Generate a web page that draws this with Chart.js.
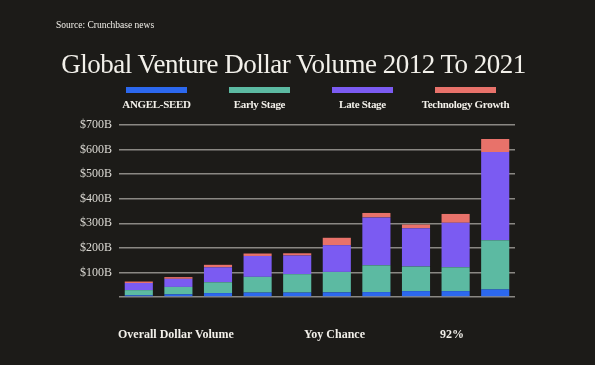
<!DOCTYPE html>
<html>
<head>
<meta charset="utf-8">
<script src="https://cdn.jsdelivr.net/npm/chart.js@4"></script>
<style>
    body {
        margin: 0;
        width: 595px;
        height: 365px;
        background: #1c1b18;
        overflow: hidden;
        font-family: "Liberation Serif", "DejaVu Serif", serif;
        color: #f2f0ea;
    }
    #grafico {
        position: absolute;
        left: 0;
        top: 0;
    }
    .texto {
        position: absolute;
        white-space: nowrap;
    }
    #fonte {
        left: 56px;
        top: 20px;
        font-size: 9.5px;
    }
    #titulo {
        left: -4px;
        width: 595px;
        text-align: center;
        top: 49px;
        font-size: 27px;
        letter-spacing: -0.5px;
    }
    #legenda {
        position: absolute;
        left: 105px;
        top: 87px;
        display: flex;
    }
    .item {
        width: 103px;
        text-align: center;
        font-size: 11px;
        font-weight: bold;
        letter-spacing: -0.3px;
    }
    .caixa {
        width: 61px;
        height: 6px;
        margin: 0 auto 5px auto;
    }
    .rodape {
        top: 327px;
        font-size: 12px;
        font-weight: bold;
    }
</style>
</head>
<body>
<canvas id="grafico" width="595" height="365"></canvas>
<div class="texto" id="fonte">Source: Crunchbase news</div>
<div class="texto" id="titulo">Global Venture Dollar Volume 2012 To 2021</div>
<div id="legenda"></div>
<div class="texto rodape" style="left:118px">Overall Dollar Volume</div>
<div class="texto rodape" style="left:304px">Yoy Chance</div>
<div class="texto rodape" style="left:440px">92%</div>

<script>
const anos = ["2012", "2013", "2014", "2015", "2016", "2017", "2018", "2019", "2020", "2021"];

const series = ["ANGEL-SEED", "Early Stage", "Late Stage", "Technology Growth"];
const cores = ["#2c68ee", "#5cbaa2", "#7b5bf2", "#e8726a"];

// valores em bilhoes de dolares
const angelSeed = [7, 11, 16, 18, 18, 19, 20, 24, 24, 31];
const earlyStage = [21, 30, 44, 64, 75, 83, 109, 100, 97, 200];
const lateStage = [29, 33, 61, 85, 76, 109, 195, 156, 181, 359];
const techGrowth = [6, 7, 10, 10, 9, 30, 18, 15, 36, 53];

const valoresY = [0, 100, 200, 300, 400, 500, 600, 700];

const dados = [angelSeed, earlyStage, lateStage, techGrowth];

const legenda = document.getElementById("legenda");
series.forEach((nome, i) => {
    const item = document.createElement("div");
    item.className = "item";
    item.innerHTML = '<div class="caixa" style="background:' + cores[i] + '"></div>' + nome;
    legenda.appendChild(item);
});

const ctx = document.getElementById("grafico");

new Chart(ctx, {
    type: "bar",
    data: {
        labels: anos,
        datasets: series.map((nome, i) => ({
            label: nome,
            data: dados[i],
            backgroundColor: cores[i],
            borderWidth: 0,
            barPercentage: 0.71,
            categoryPercentage: 1.0
        }))
    },
    options: {
        responsive: false,
        animation: false,
        layout: {
            padding: { top: 125, bottom: 68, left: 0, right: 80 }
        },
        plugins: {
            legend: { display: false },
            tooltip: { enabled: false }
        },
        scales: {
            x: {
                stacked: true,
                display: false
            },
            y: {
                stacked: true,
                min: 0,
                max: valoresY[valoresY.length - 1],
                afterFit: scale => { scale.width = 119; },
                afterBuildTicks: scale => {
                    scale.ticks = valoresY.map(v => ({ value: v }));
                },
                border: { display: false },
                grid: {
                    color: "#8a8883",
                    lineWidth: 1.5,
                    drawTicks: false
                },
                ticks: {
                    padding: 7,
                    color: "#dcdad4",
                    font: { family: "Liberation Serif", size: 12 },
                    callback: v => v === 0 ? "" : "$" + v + "B"
                }
            }
        }
    }
});
</script>
</body>
</html>
